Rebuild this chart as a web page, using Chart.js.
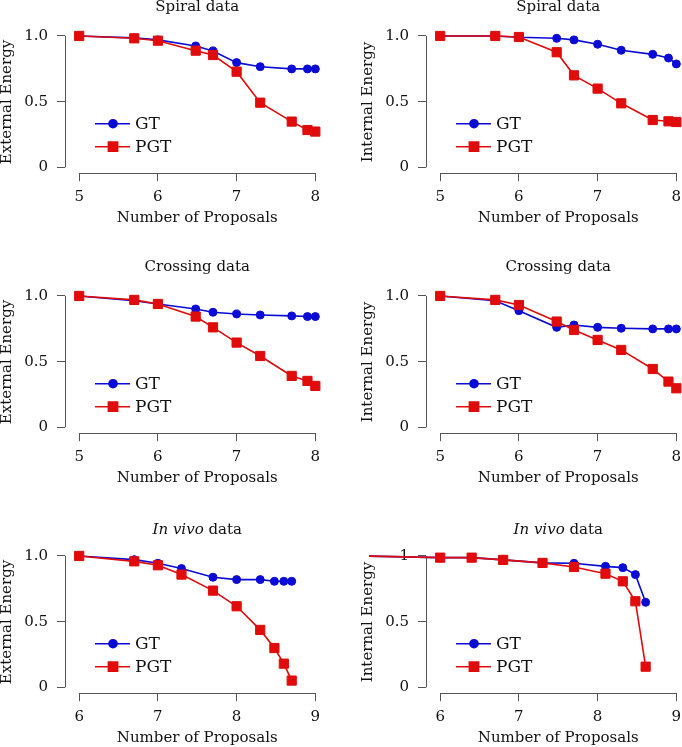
<!DOCTYPE html>
<html lang="en">
<head>
<meta charset="UTF-8">
<title>Energy vs Number of Proposals</title>
<script src="https://cdn.jsdelivr.net/npm/chart.js@4/dist/chart.umd.min.js"></script>
<style>
  body {
    margin: 0;
    width: 682px;
    height: 747px;
    overflow: hidden;
    position: relative;
    background: #fff;
  }
  canvas { position: absolute; }
</style>
</head>
<body>
<canvas id="p1" width="341" height="262" style="left:0;top:-10px"></canvas>
<canvas id="p2" width="341" height="262" style="left:361px;top:-10px"></canvas>
<canvas id="p3" width="341" height="262" style="left:0;top:250px"></canvas>
<canvas id="p4" width="341" height="262" style="left:361px;top:250px"></canvas>
<canvas id="p5" width="341" height="262" style="left:0;top:510px"></canvas>
<canvas id="p6" width="341" height="262" style="left:361px;top:510px"></canvas>

<script>
// log2 of the number of proposals
const spiralX = [5, 5.7, 6, 6.48, 6.7, 7, 7.3, 7.7, 7.9, 8];
const crossingX = [5, 5.7, 6, 6.48, 6.7, 7, 7.3, 7.7, 7.9, 8];
const invivoExtX = [6, 6.7, 7, 7.3, 7.7, 8, 8.3, 8.48, 8.6, 8.7];
const invivoIntX = [5, 6, 6.4, 6.8, 7.3, 7.7, 8.1, 8.32, 8.48, 8.61];

const spiralExtGT  = [1.0, 0.985, 0.97, 0.924, 0.886, 0.797, 0.766, 0.749, 0.749, 0.749];
const spiralExtPGT = [1.0, 0.982, 0.964, 0.888, 0.855, 0.728, 0.492, 0.348, 0.284, 0.272];
const spiralIntGT  = [1.0, 1.0, 0.99, 0.982, 0.970, 0.937, 0.891, 0.860, 0.832, 0.787];
const spiralIntPGT = [1.0, 1.0, 0.992, 0.876, 0.700, 0.599, 0.487, 0.360, 0.350, 0.345];

const crossingExtGT  = [1.0, 0.964, 0.939, 0.901, 0.876, 0.863, 0.855, 0.848, 0.843, 0.843];
const crossingExtPGT = [1.0, 0.970, 0.939, 0.843, 0.761, 0.645, 0.543, 0.391, 0.353, 0.315];
const crossingIntGT  = [1.0, 0.964, 0.888, 0.761, 0.779, 0.761, 0.754, 0.749, 0.749, 0.749];
const crossingIntPGT = [1.0, 0.970, 0.931, 0.805, 0.741, 0.665, 0.589, 0.444, 0.348, 0.297];

const invivoExtGT  = [1.0, 0.972, 0.944, 0.904, 0.838, 0.820, 0.820, 0.807, 0.807, 0.807];
const invivoExtPGT = [1.0, 0.959, 0.929, 0.858, 0.736, 0.617, 0.437, 0.299, 0.180, 0.051];
const invivoIntGT  = [1.0, 0.987, 0.987, 0.970, 0.947, 0.944, 0.921, 0.911, 0.858, 0.647];
const invivoIntPGT = [1.0, 0.987, 0.987, 0.970, 0.947, 0.916, 0.865, 0.807, 0.655, 0.157];

const xTicksA = [5, 6, 7, 8];
const xTicksB = [6, 7, 8, 9];
const yTicks = [0, 0.5, 1];
const yLabelsA = ['0', '0.5', '1.0'];
const yLabelsB = ['0', '0.5', '1'];

const seriesNames = ['GT', 'PGT'];

const serif = "'DejaVu Serif', 'Liberation Serif', serif";
const axisColor = '#555';
const blue = '#0b0bd6';
const red = '#e00b0b';

// R style axes: line only between first and last tick
const axisLines = {
  id: 'axisLines',
  beforeDatasetsDraw(chart) {
    const {ctx, chartArea, scales: {x, y}} = chart;
    const xt = x.ticks, yt = y.ticks;
    ctx.save();
    ctx.strokeStyle = axisColor;
    ctx.lineWidth = 1;
    ctx.beginPath();
    const lx = Math.round(chartArea.left) + 0.5;
    ctx.moveTo(lx, y.getPixelForValue(yt[0].value));
    ctx.lineTo(lx, y.getPixelForValue(yt[yt.length - 1].value));
    const by = Math.round(chartArea.bottom) + 0.5;
    ctx.moveTo(x.getPixelForValue(xt[0].value), by);
    ctx.lineTo(x.getPixelForValue(xt[xt.length - 1].value), by);
    ctx.stroke();
    ctx.restore();
  }
};

const panelTitle = {
  id: 'panelTitle',
  afterDraw(chart, args, opts) {
    const {ctx, chartArea} = chart;
    const cx = (chartArea.left + chartArea.right) / 2;
    ctx.save();
    ctx.fillStyle = '#111';
    ctx.textBaseline = 'middle';
    ctx.textAlign = 'left';
    const fonts = opts.parts.map(p => (p.italic ? 'italic ' : '') + '15px ' + serif);
    const widths = opts.parts.map((p, i) => { ctx.font = fonts[i]; return ctx.measureText(p.text).width; });
    let xx = cx - widths.reduce((a, b) => a + b, 0) / 2;
    opts.parts.forEach((p, i) => {
      ctx.font = fonts[i];
      ctx.fillText(p.text, xx, opts.y);
      xx += widths[i];
    });
    ctx.restore();
  }
};

const insideLegend = {
  id: 'insideLegend',
  afterDatasetsDraw(chart) {
    const {ctx, chartArea} = chart;
    const x0 = chartArea.left + 30;
    const rows = [49.5, 26.5];
    chart.data.datasets.forEach((ds, i) => {
      const yy = chartArea.bottom - rows[i];
      ctx.save();
      ctx.strokeStyle = ds.borderColor;
      ctx.lineWidth = ds.borderWidth;
      ctx.beginPath();
      ctx.moveTo(x0, yy);
      ctx.lineTo(x0 + 35, yy);
      ctx.stroke();
      ctx.fillStyle = ds.pointBackgroundColor;
      ctx.strokeStyle = ds.pointBorderColor;
      Chart.helpers.drawPoint(ctx, {
        pointStyle: ds.pointStyle, radius: ds.pointRadius, rotation: 0, borderWidth: 1
      }, x0 + 18, yy);
      ctx.fillStyle = '#111';
      ctx.font = '17px ' + serif;
      ctx.textBaseline = 'middle';
      ctx.fillText(ds.label, x0 + 40, yy + 1);
      ctx.restore();
    });
  }
};

function series(xs, ys) {
  return xs.map((x, i) => ({x: x, y: ys[i]}));
}

function makePanel(id, xs, gt, pgt, xTicks, yLabels, yTitle, titleParts, titleY, clip) {
  const lineDs = (label, data, color, style, radius, order) => ({
    label: label,
    data: data,
    borderColor: color,
    borderWidth: 1.6,
    pointBackgroundColor: color,
    pointBorderColor: color,
    pointBorderWidth: 1,
    pointStyle: style,
    pointRadius: radius,
    tension: 0,
    order: order,
    clip: clip
  });
  const xMin = xTicks[0] - 0.18, xMax = xTicks[xTicks.length - 1] + 0.18;
  new Chart(document.getElementById(id), {
    type: 'line',
    data: {
      datasets: [
        lineDs(seriesNames[0], series(xs, gt), blue, 'circle', 4, 1),
        lineDs(seriesNames[1], series(xs, pgt), red, 'rect', 6.5, 0)
      ]
    },
    options: {
      responsive: false,
      animation: false,
      events: [],
      layout: {padding: {left: 0, right: 11.5, top: 40.7, bottom: 0}},
      plugins: {
        legend: {display: false},
        tooltip: {enabled: false},
        panelTitle: {parts: titleParts, y: titleY}
      },
      scales: {
        x: {
          type: 'linear',
          min: xMin,
          max: xMax,
          afterBuildTicks: s => { s.ticks = xTicks.map(v => ({value: v})); },
          afterFit: s => { s.height = 78.8; },
          grid: {drawOnChartArea: false, drawTicks: true, tickLength: 8, color: axisColor},
          border: {display: false},
          ticks: {
            padding: 8.3, color: '#111', maxRotation: 0, autoSkip: false,
            font: {family: serif, size: 15, lineHeight: 1},
            callback: v => String(v)
          },
          title: {
            display: true, text: 'Number of Proposals', color: '#111',
            font: {family: serif, size: 15, lineHeight: 1},
            padding: {top: 0, bottom: 26.5}
          }
        },
        y: {
          min: -0.045,
          max: 1.04,
          afterBuildTicks: s => { s.ticks = yTicks.map(v => ({value: v})); },
          afterFit: s => { s.width = 65; },
          grid: {drawOnChartArea: false, drawTicks: true, tickLength: 8, color: axisColor},
          border: {display: false},
          ticks: {
            padding: 9, color: '#111',
            font: {family: serif, size: 15, lineHeight: 1},
            callback: v => yLabels[yTicks.indexOf(v)]
          },
          title: {
            display: true, text: yTitle, color: '#111',
            font: {family: serif, size: 15, lineHeight: 1},
            padding: {top: 0, bottom: 0}
          }
        }
      }
    },
    plugins: [axisLines, panelTitle, insideLegend]
  });
}

const spiralTitle = [{text: 'Spiral data'}];
const crossingTitle = [{text: 'Crossing data'}];
const invivoTitle = [{text: 'In vivo', italic: true}, {text: ' data'}];

makePanel('p1', spiralX, spiralExtGT, spiralExtPGT, xTicksA, yLabelsA, 'External Energy', spiralTitle, 17, false);
makePanel('p2', spiralX, spiralIntGT, spiralIntPGT, xTicksA, yLabelsA, 'Internal Energy', spiralTitle, 17, false);
makePanel('p3', crossingX, crossingExtGT, crossingExtPGT, xTicksA, yLabelsA, 'External Energy', crossingTitle, 17, false);
makePanel('p4', crossingX, crossingIntGT, crossingIntPGT, xTicksA, yLabelsA, 'Internal Energy', crossingTitle, 17, false);
makePanel('p5', invivoExtX, invivoExtGT, invivoExtPGT, xTicksB, yLabelsA, 'External Energy', invivoTitle, 20, false);
makePanel('p6', invivoIntX, invivoIntGT, invivoIntPGT, xTicksB, yLabelsB, 'Internal Energy', invivoTitle, 20,
  {left: 57, right: 30, top: 20, bottom: 20});
</script>
</body>
</html>
